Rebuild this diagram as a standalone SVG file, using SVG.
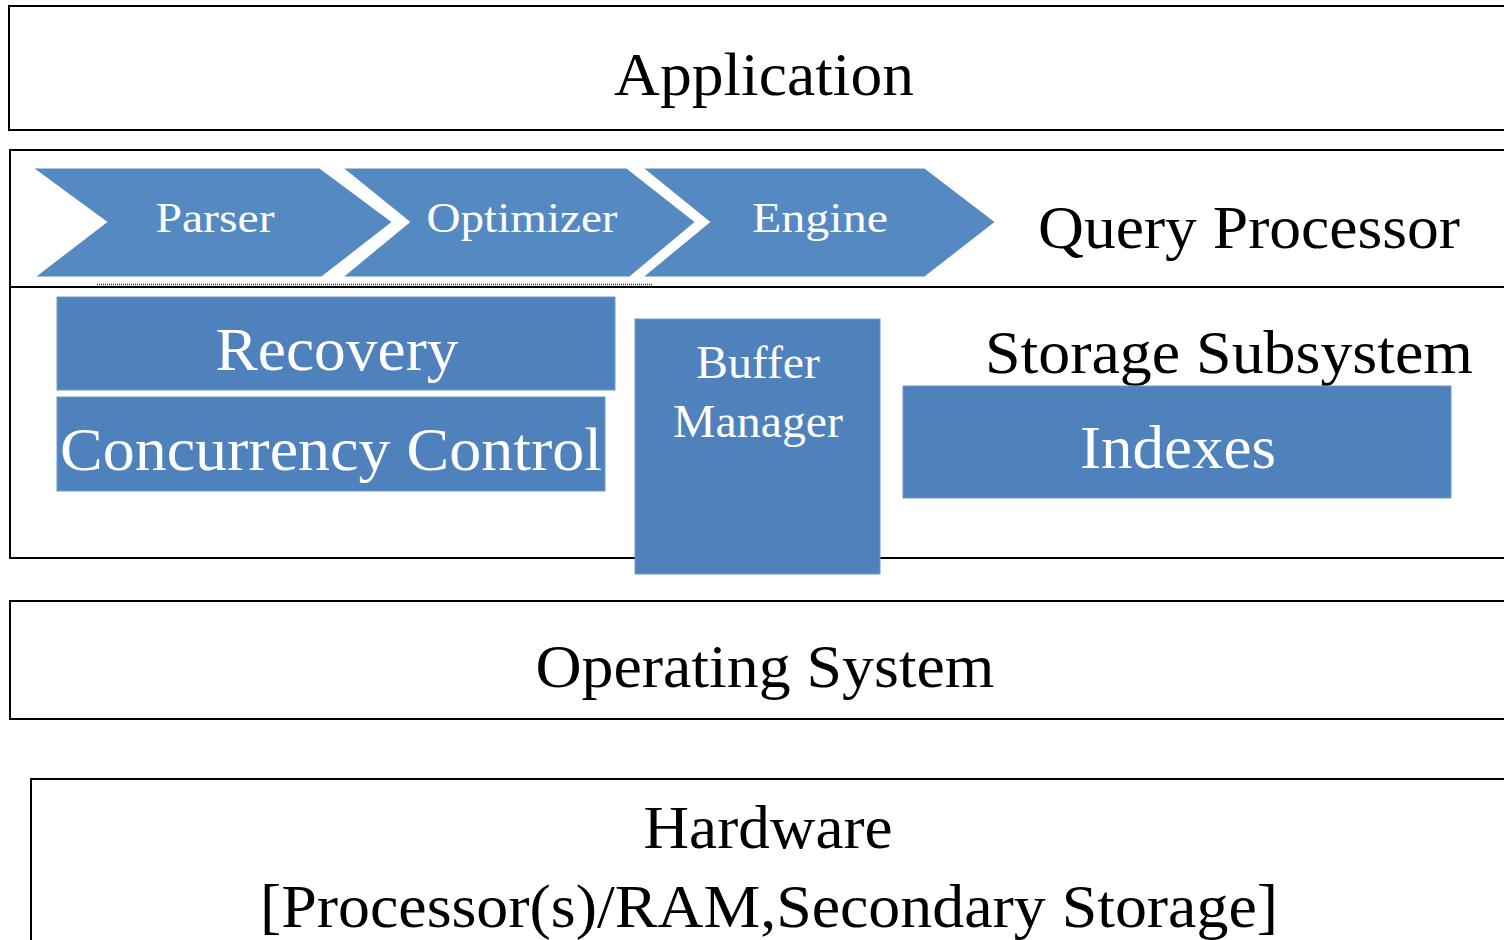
<svg xmlns="http://www.w3.org/2000/svg" width="1504" height="940" viewBox="0 0 1504 940">
<style>
.layer{fill:#ffffff;stroke:#000000;stroke-width:2}
.blue{fill:#4F81BD;stroke:#6F97CA;stroke-width:1}
.chev{fill:#5589C2;stroke:#ffffff;stroke-width:3;stroke-linejoin:miter}
.t{font-family:"Liberation Serif","Times New Roman",serif;font-size:62px;fill:#000000}
.w{font-family:"Liberation Serif","Times New Roman",serif;font-size:62px;fill:#ffffff;text-anchor:middle}
.c{font-family:"Liberation Serif","Times New Roman",serif;font-size:42px;fill:#ffffff;text-anchor:middle}
</style>
<rect width="1504" height="940" fill="#ffffff"/>
<g id="application">
<rect class="layer" x="9" y="6" width="1510" height="124"/>
<text class="t" x="764" y="95" text-anchor="middle" textLength="300" lengthAdjust="spacingAndGlyphs">Application</text>
</g>
<g id="query-processor">
<rect class="layer" x="10" y="150" width="1510" height="137"/>
<text class="t" x="1038" y="248" textLength="422" lengthAdjust="spacingAndGlyphs">Query Processor</text>
</g>
<g id="storage-subsystem">
<rect class="layer" x="10" y="287" width="1510" height="271"/>
<text class="t" x="985" y="373" textLength="488" lengthAdjust="spacingAndGlyphs">Storage Subsystem</text>
</g>
<g id="connectors">
<line x1="97" y1="284.5" x2="653" y2="284.5" stroke="#333333" stroke-width="1.5" stroke-dasharray="1 1"/>
</g>
<g id="parser">
<polygon class="chev" points="30,167 320,167 394,222 322,278 32,278 105,222"/>
<text class="c" x="215" y="232" textLength="119" lengthAdjust="spacingAndGlyphs">Parser</text>
</g>
<g id="optimizer">
<polygon class="chev" points="340,167 627,167 697,222 630,278 340,278 408,222"/>
<text class="c" x="522" y="232" textLength="191" lengthAdjust="spacingAndGlyphs">Optimizer</text>
</g>
<g id="engine">
<polygon class="chev" points="640,167 925,167 997,222 925,278 640,278 708,222"/>
<text class="c" x="820" y="232" textLength="136" lengthAdjust="spacingAndGlyphs">Engine</text>
</g>
<g id="recovery">
<rect class="blue" x="57" y="297" width="558" height="93"/>
<text class="w" x="337" y="370" textLength="243" lengthAdjust="spacingAndGlyphs">Recovery</text>
</g>
<g id="concurrency-control">
<rect class="blue" x="57" y="397" width="548" height="94"/>
<text class="w" x="331" y="470" textLength="542" lengthAdjust="spacingAndGlyphs">Concurrency Control</text>
</g>
<g id="buffer-manager">
<rect class="blue" x="635" y="319" width="245" height="255"/>
<text class="w" x="758" y="378" style="font-size:47px" textLength="124" lengthAdjust="spacingAndGlyphs">Buffer</text>
<text class="w" x="758" y="437" style="font-size:47px" textLength="170" lengthAdjust="spacingAndGlyphs">Manager</text>
</g>
<g id="indexes">
<rect class="blue" x="903" y="386" width="548" height="112"/>
<text class="w" x="1178" y="468" textLength="196" lengthAdjust="spacingAndGlyphs">Indexes</text>
</g>
<g id="operating-system">
<rect class="layer" x="10" y="601" width="1510" height="118"/>
<text class="t" x="765" y="687" text-anchor="middle" textLength="459" lengthAdjust="spacingAndGlyphs">Operating System</text>
</g>
<g id="hardware">
<rect class="layer" x="31" y="779" width="1500" height="200"/>
<text class="t" x="768" y="848" text-anchor="middle" textLength="249" lengthAdjust="spacingAndGlyphs">Hardware</text>
<text class="t" x="769" y="927" text-anchor="middle" textLength="1018" lengthAdjust="spacingAndGlyphs">[Processor(s)/RAM,Secondary Storage]</text>
</g>
</svg>
